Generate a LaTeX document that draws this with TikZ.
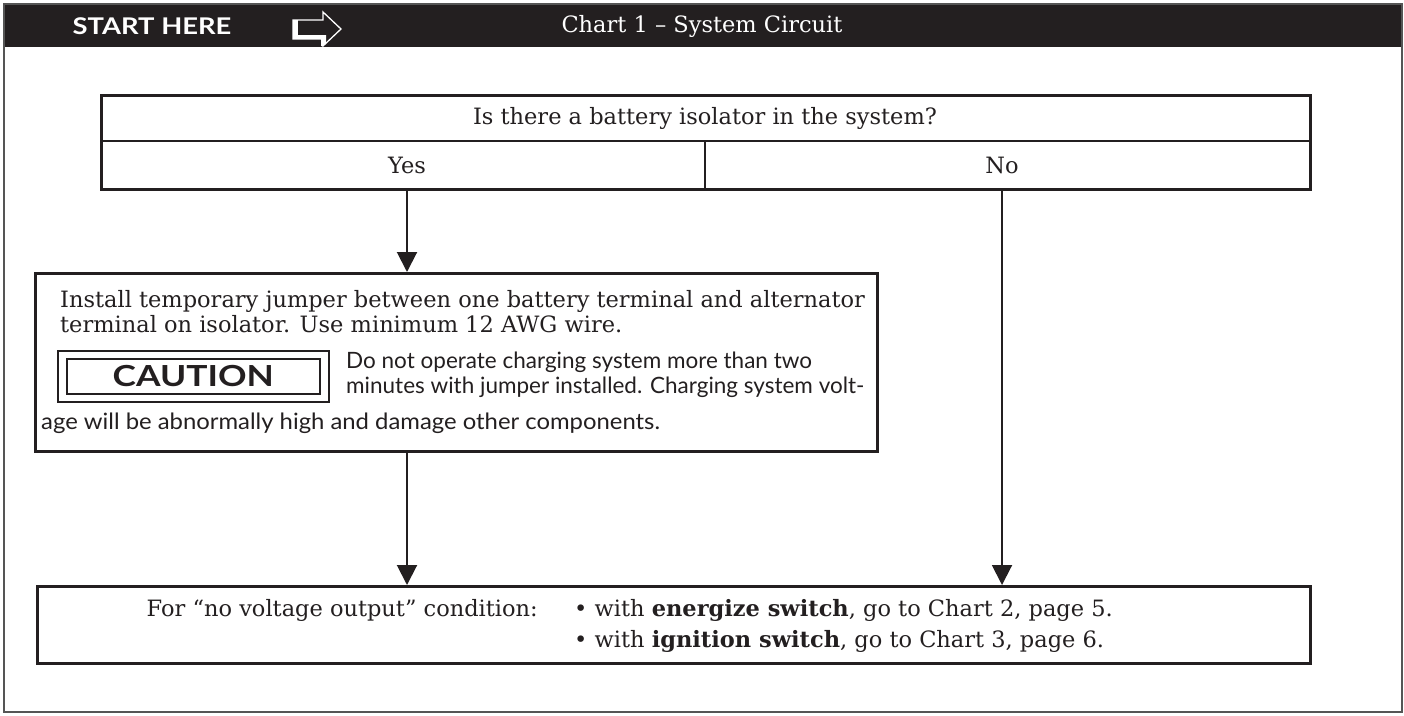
\documentclass[tikz,border=0pt]{standalone}
\usepackage{fontspec}
\setmainfont{DejaVu Serif}
\newfontfamily\gill{Lato}
\usetikzlibrary{arrows.meta}
\definecolor{ink}{HTML}{231F20}
\definecolor{frame}{HTML}{555555}
\tikzset{
  box/.style={draw=ink, line width=2.5pt, anchor=north west, inner sep=0pt},
  arr/.style={draw=ink, line width=2pt, -{Triangle[width=20pt,length=20pt]}},
  serif/.style={font=\fontsize{22.5}{26}\selectfont, text=ink, inner sep=0pt},
  sans/.style={font=\gill\fontsize{22.5}{26}\selectfont, text=ink, inner sep=0pt, anchor=base west},
  line/.style={serif, anchor=base west},
}
\begin{document}
\begin{tikzpicture}[x=1pt,y=-1pt]
\useasboundingbox (0,0) rectangle (1404,715);
% frame and header
\fill[ink] (4,4) rectangle (1402,47);
\draw[frame, line width=1.5pt] (4,4) rectangle (1402,712);
\node[font=\gill\bfseries\fontsize{23}{26}\selectfont, text=white, inner sep=0pt] (start) at (152,26) {\scalebox{1.19}[1]{START HERE}};
\node[font=\fontsize{22.5}{26}\selectfont, text=white, inner sep=0pt] (title) at (702,26) {Chart 1 – System Circuit};
% header arrow icon
\draw[white, line width=1.3pt, line join=miter] (293,20) -- (323,20) -- (323,12) -- (341,29) -- (323,46) -- (323,39) -- (293,39) -- cycle;
\fill[white] (293,20) rectangle (298,39);
\fill[white] (293,35) rectangle (326,39);
\fill[white] (321,35) -- (326,35) -- (326,43) -- (323,46) -- (321,46) -- cycle;
% question box
\node[box, minimum width=1209pt, minimum height=94pt] (q) at (100,94) {};
\draw[ink, line width=2.5pt] (100,141) -- (1309,141);
\draw[ink, line width=2.5pt] (705,141) -- (705,188);
\node[serif] (qt) at (705,118) {Is there a battery isolator in the system?};
\node[serif] (yes) at (407,165) {Yes};
\node[serif] (no) at (1002,165) {No};
% install box
\node[box, minimum width=842pt, minimum height=178pt] (b2) at (34,272) {};
\node[line] (l1) at (60,307) {Install temporary jumper between one battery terminal and alternator};
\node[line] (l2) at (60,332) {terminal on isolator. Use minimum 12 AWG wire.};
\node[draw=ink, line width=1.5pt, minimum width=271pt, minimum height=51pt, anchor=north west, inner sep=0pt] (cout) at (57,350) {};
\node[draw=ink, line width=1.5pt, minimum width=253pt, minimum height=35pt, inner sep=0pt, font=\gill\bfseries\fontsize{29}{32}\selectfont, text=ink] (caution) at (cout.center) {\scalebox{1.22}[1]{CAUTION}};
\node[sans] (c1) at (346,368) {Do not operate charging system more than two};
\node[sans] (c2) at (346,393) {minutes with jumper installed. Charging system volt-};
\node[sans] (c3) at (41,429) {\scalebox{1.06}[1]{age will be abnormally high and damage other components.}};
% result box
\node[box, minimum width=1273pt, minimum height=77pt] (b3) at (36,585) {};
\node[serif, anchor=base east] (r0) at (538,616) {For “no voltage output” condition:};
\node[line] (r1) at (574,616) {• with \textbf{energize switch}, go to Chart 2, page 5.};
\node[line] (r2) at (574,647) {• with \textbf{ignition switch}, go to Chart 3, page 6.};
% connectors
\draw[arr] (yes |- q.south) -- (yes |- b2.north);
\draw[arr] (yes |- b2.south) -- (yes |- b3.north);
\draw[arr] (no |- q.south) -- (no |- b3.north);
\end{tikzpicture}
\end{document}
